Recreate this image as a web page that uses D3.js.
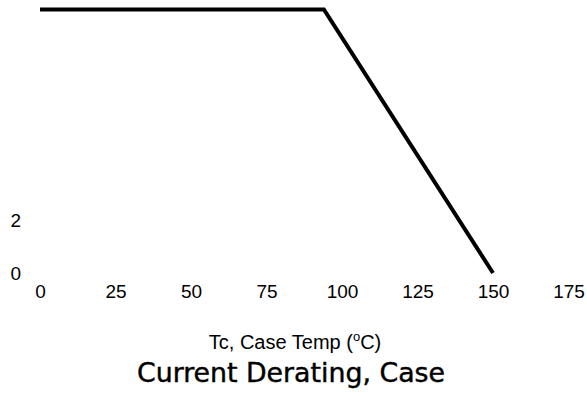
<!DOCTYPE html>
<html><head><meta charset="utf-8">
<script src="https://cdn.jsdelivr.net/npm/d3@7"></script>
<style>body{margin:0;background:#fff}svg{display:block}</style>
</head><body>
<svg id="c" width="587" height="403"></svg>
<script>
const caseTemp = [0, 94, 150];
const currentA = [10, 10, 0];
const xTicks = [0, 25, 50, 75, 100, 125, 150, 175];
const yTicks = [0, 2];
const xTitle = "Tc, Case Temp (";
const chartTitle = "Current Derating, Case";

const svg = d3.select("#c");
const x = d3.scaleLinear().domain([0, 175]).range([40, 568.5]);
const y = d3.scaleLinear().domain([0, 10]).range([273, 9.5]);

const xAxis = d3.axisBottom(x).tickValues(xTicks).tickSize(0).tickPadding(0);
const gx = svg.append("g").attr("transform", "translate(0,284)").call(xAxis);
gx.select(".domain").remove();
gx.selectAll("text").attr("font-family", "Arial, 'Liberation Sans', sans-serif")
  .attr("font-size", 19).attr("fill", "#000").attr("dy", "0.74em");

const yAxis = d3.axisLeft(y).tickValues(yTicks).tickSize(0).tickPadding(0);
const gy = svg.append("g").attr("transform", "translate(10.5,0)").call(yAxis);
gy.select(".domain").remove();
gy.selectAll("text").attr("font-family", "Arial, 'Liberation Sans', sans-serif")
  .attr("font-size", 19).attr("fill", "#000").attr("text-anchor", "start").attr("dy", "0.35em");

const pts = caseTemp.map((t, i) => [t, currentA[i]]);
svg.append("path").datum(pts)
  .attr("d", d3.line().x(d => x(d[0])).y(d => y(d[1])))
  .attr("fill", "none").attr("stroke", "#000").attr("stroke-width", 4).attr("stroke-linejoin", "miter");

const t1 = svg.append("text").attr("x", 295).attr("y", 349).attr("text-anchor", "middle")
  .attr("font-family", "Arial, 'Liberation Sans', sans-serif").attr("font-size", 20).attr("fill", "#000");
t1.append("tspan").text(xTitle);
t1.append("tspan").attr("font-size", 13).attr("dy", -8).text("o");
t1.append("tspan").attr("dy", 8).text("C)");

svg.append("text").attr("x", 137).attr("y", 382)
  .attr("font-family", "'Liberation Sans Narrow', 'DejaVu Sans Condensed', Arial, sans-serif")
  .attr("font-size", 27).attr("fill", "#000").attr("stroke", "#000").attr("stroke-width", 0.4)
  .attr("textLength", 308).attr("lengthAdjust", "spacingAndGlyphs")
  .text(chartTitle);
</script>
</body></html>
